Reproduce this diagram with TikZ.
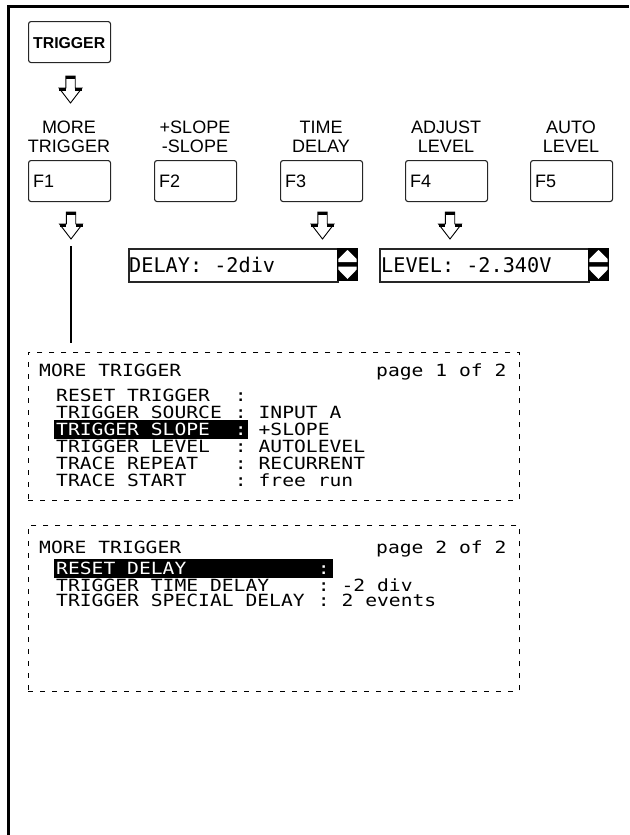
\documentclass[tikz,border=0pt]{standalone}
\usepackage{fontspec}
\setmainfont{Liberation Sans}
\newfontfamily\lcdfont[FakeStretch=1.17]{DejaVu Sans Mono}
\newfontfamily\fieldfont{DejaVu Sans Mono}
\begin{document}
\begin{tikzpicture}[x=1pt,y=-1pt,
  fkey/.style={draw=black!85, line width=1.1pt, rounded corners=2.5pt, minimum width=82pt, minimum height=41pt, inner sep=0pt, anchor=north west},
  lbl/.style={anchor=base, inner sep=0pt, font=\fontsize{18}{19}\selectfont},
  ftxt/.style={anchor=base west, inner sep=0pt, font=\fontsize{18}{19}\selectfont},
  menu/.style={anchor=base west, inner sep=0pt, font=\lcdfont\fontsize{16.8}{17}\selectfont},
  menuinv/.style={menu, text=white},
  fld/.style={anchor=base west, inner sep=0pt, font=\fieldfont\fontsize{20.2}{21}\selectfont},
  fieldbox/.style={draw=black!85, line width=1.6pt, minimum width=209pt, minimum height=33pt, inner sep=0pt, anchor=north west},
  dbox/.style={draw, line width=0.9pt, dash pattern=on 5pt off 7pt, anchor=north west, inner sep=0pt, minimum width=491pt},
  blockarrow/.pic={
    \draw[line width=0.9pt, fill=white, line join=miter] (-4.7,0) -- (4.7,0) -- (4.7,12) -- (11.5,12) -- (0,27) -- (-11.5,12) -- (-4.7,12) -- cycle;
    \fill[black] (-4.7,0) rectangle (4.7,3);
    \fill[black] (-11.5,12) rectangle (-4.7,14.5);
    \fill[black] (4.7,12) rectangle (11.5,14.5);
  },
  spinner/.pic={
    \fill[black] (0,0) rectangle (21,33);
    \fill[white] (10.5,2) -- (19.7,11) -- (19.7,14) -- (1.3,14) -- (1.3,11) -- cycle;
    \fill[white] (1.3,18.5) -- (19.7,18.5) -- (19.7,21.5) -- (10.5,31) -- (1.3,21.5) -- cycle;
  }
]
\useasboundingbox (0,0) rectangle (629,835);
% frame
\draw[line width=3pt] (8.5,835) -- (8.5,6.5) -- (629,6.5);

% TRIGGER key
\node[fkey] (trig) at (28,21) {};
\node[anchor=base, inner sep=0pt, font=\bfseries\fontsize{15.8}{16}\selectfont] (trigtxt) at (69.2,48.5) {TRIGGER};
\pic at (70.5,76) {blockarrow};

% labels
\node[lbl] (l1a) at (69,133) {MORE};
\node[lbl] (l1b) at (69,152) {TRIGGER};
\node[lbl] (l2a) at (195,133) {+SLOPE};
\node[lbl] (l2b) at (195,152) {-SLOPE};
\node[lbl] (l3a) at (321,133) {TIME};
\node[lbl] (l3b) at (321,152) {DELAY};
\node[lbl] (l4a) at (446,133) {ADJUST};
\node[lbl] (l4b) at (446,152) {LEVEL};
\node[lbl] (l5a) at (571,133) {AUTO};
\node[lbl] (l5b) at (571,152) {LEVEL};

% function keys
\node[fkey] (f1) at (28,160) {};
\node[fkey] (f2) at (154,160) {};
\node[fkey] (f3) at (280,160) {};
\node[fkey] (f4) at (405,160) {};
\node[fkey] (f5) at (530,160) {};
\node[ftxt] (f1t) at (33,187) {F1};
\node[ftxt] (f2t) at (159,187) {F2};
\node[ftxt] (f3t) at (285,187) {F3};
\node[ftxt] (f4t) at (410,187) {F4};
\node[ftxt] (f5t) at (535,187) {F5};

% arrows below keys
\pic at (71,212) {blockarrow};
\pic at (322.5,212) {blockarrow};
\pic at (450,212) {blockarrow};

% connector from F1 arrow to menu
\coordinate (lineTop) at (71,246);
\coordinate (lineBot) at (71,343);
\draw[line width=1.6pt] (lineTop) -- (lineBot);

% value fields
\node[fieldbox] (delayfld) at (128,248) {};
\pic at (337,248) {spinner};
\node[fld] (delaytxt) at (129,272.5) {DELAY: -2div};
\node[fieldbox] (levelfld) at (379,248) {};
\pic at (588,248) {spinner};
\node[fld] (leveltxt) at (381,272.5) {LEVEL: -2.340V};

% menu page 1
\node[dbox, minimum height=148pt] (menu1) at (28,352) {};
\fill[black] (54,420) rectangle (248,439);
\node[menu] (m1title) at (39,376) {MORE TRIGGER};
\node[menu] (m1page) at (376,376) {page 1 of 2};
\node[menu] (m1r1) at (56,401) {RESET TRIGGER};
\node[menu] (m1c1) at (234.75,401) {:};
\node[menu] (m1r2) at (56,418) {TRIGGER SOURCE};
\node[menu] (m1c2) at (234.75,418) {:};
\node[menu] (m1v2) at (258.4,418) {INPUT A};
\node[menuinv] (m1r3) at (56,435) {TRIGGER SLOPE};
\node[menuinv] (m1c3) at (234.75,435) {:};
\node[menu] (m1v3) at (258.4,435) {+SLOPE};
\node[menu] (m1r4) at (56,452) {TRIGGER LEVEL};
\node[menu] (m1c4) at (234.75,452) {:};
\node[menu] (m1v4) at (258.4,452) {AUTOLEVEL};
\node[menu] (m1r5) at (56,469) {TRACE REPEAT};
\node[menu] (m1c5) at (234.75,469) {:};
\node[menu] (m1v5) at (258.4,469) {RECURRENT};
\node[menu] (m1r6) at (56,486) {TRACE START};
\node[menu] (m1c6) at (234.75,486) {:};
\node[menu] (m1v6) at (258.4,486) {free run};

% menu page 2
\node[dbox, minimum height=166pt] (menu2) at (28,525) {};
\fill[black] (54,559) rectangle (333,577.5);
\node[menu] (m2title) at (39,553) {MORE TRIGGER};
\node[menu] (m2page) at (376,553) {page 2 of 2};
\node[menuinv] (m2r1) at (56,574.5) {RESET DELAY};
\node[menuinv] (m2c1) at (317.7,574.5) {:};
\node[menu] (m2r2) at (56,591) {TRIGGER TIME DELAY};
\node[menu] (m2c2) at (317.7,591) {:};
\node[menu] (m2v2) at (341.4,591) {-2 div};
\node[menu] (m2r3) at (56,606.5) {TRIGGER SPECIAL DELAY};
\node[menu] (m2c3) at (317.7,606.5) {:};
\node[menu] (m2v3) at (341.4,606.5) {2 events};
\end{tikzpicture}
\end{document}
